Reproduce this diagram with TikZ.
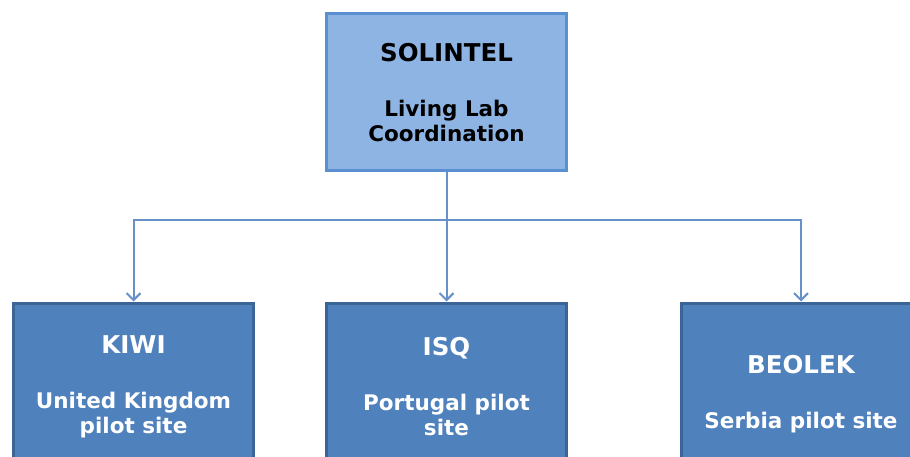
\documentclass[tikz,border=0pt]{standalone}
\usepackage{fontspec}
\setmainfont{DejaVu Sans}
\usetikzlibrary{arrows.meta}
\definecolor{leadfill}{HTML}{8EB4E3}
\definecolor{leaddraw}{HTML}{5A8FD2}
\definecolor{sitefill}{HTML}{4F81BD}
\definecolor{sitedraw}{HTML}{3B6497}
\definecolor{linkcol}{HTML}{6690C8}
\newcommand{\boxtitle}[1]{{\fontsize{24.5}{27}\selectfont #1}}
\tikzset{
	lead/.style={rectangle,draw=leaddraw,line width=3pt,fill=leadfill,minimum width=240pt,minimum height=157pt,
		align=center,font=\bfseries\fontsize{21.5}{25}\selectfont,text=black},
	site/.style={rectangle,draw=sitedraw,line width=3pt,fill=sitefill,minimum width=240pt,minimum height=#1,
		align=center,font=\bfseries\fontsize{21.5}{25}\selectfont,text=white},
	site/.default=167pt,
	link/.style={draw=linkcol,line width=2pt,-{Straight Barb[length=7pt,width=14pt,line width=2pt]}}
}
\begin{document}
\begin{tikzpicture}[x=1pt,y=-1pt]
	\useasboundingbox (0,0) rectangle (910,457);
	\node [lead] (solintel) at (446.5,92.5) {\boxtitle{SOLINTEL}\\[30pt]Living Lab\\Coordination};
	\node [site] (kiwi) at (133.5,386.5) {\boxtitle{KIWI}\\[30pt]United Kingdom\\pilot site};
	\node [site] (isq) at (446.5,386.5) {\boxtitle{ISQ}\\[30pt]Portugal pilot\\site};
	\node [site=183pt] (beolek) at (801,394.5) {\boxtitle{BEOLEK}\\[30pt]Serbia pilot site};

	\coordinate (bus) at (446.5,220);
	\draw [link] (solintel.south) -- (isq.north);
	\draw [link] (bus) -| (kiwi.north);
	\draw [link] (bus) -| (beolek.north);
\end{tikzpicture}
\end{document}
